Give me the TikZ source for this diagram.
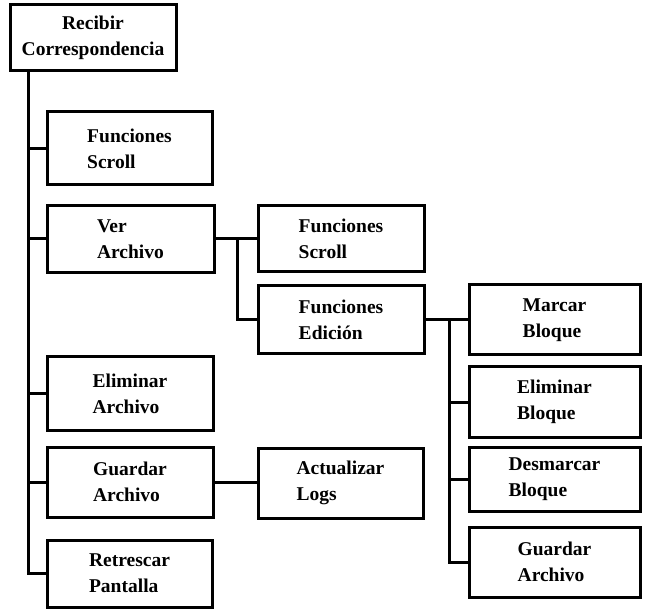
\documentclass[tikz,border=0pt]{standalone}
\usepackage{fontspec}
\setmainfont{Liberation Serif}
\begin{document}
\begin{tikzpicture}[x=1pt,y=-1pt,
  box/.style={draw, line width=3pt, rectangle, inner sep=0pt,
    font=\bfseries\fontsize{19.5}{26}\selectfont, align=left},
  link/.style={line width=3pt}]
\useasboundingbox (0,0) rectangle (645,609);
% boxes: centre, width, height
\newcommand{\boxat}[6]{\node[box,minimum width=#4,minimum height=#5,#6] (#1) at (#2,#3)}
\boxat{root}{93}{38}{166}{66}{align=center}{Recibir\\Correspondencia};
\boxat{fsa}{129.5}{148.5}{165}{73}{}{Funciones\\Scroll};
\boxat{ver}{130.5}{239}{167}{67}{}{Ver\\Archivo};
\boxat{elim}{130}{393.5}{166}{73}{}{Eliminar\\Archivo};
\boxat{guard}{130}{482}{166}{70}{}{Guardar\\Archivo};
\boxat{retr}{129.5}{573.5}{165}{67}{}{Retrescar\\Pantalla};
\boxat{fsb}{341}{239}{166}{66}{}{Funciones\\Scroll};
\boxat{edic}{341}{320}{166}{68}{}{Funciones\\Edición};
\boxat{act}{340.5}{483}{165}{70}{}{Actualizar\\Logs};
\boxat{marc}{554.5}{320}{171}{70}{}{Marcar\\Bloque};
\boxat{elimb}{554.5}{402}{171}{70}{}{Eliminar\\Bloque};
\boxat{desm}{554.5}{479}{171}{64}{}{Desmarcar\\Bloque};
\boxat{guardb}{554.5}{562}{171}{70}{}{Guardar\\Archivo};
% trunk and branch lines
\coordinate (t) at (28,0);
\coordinate (b1) at (237,0);
\coordinate (b2) at (449,0);
\draw[link] (root.south -| t) |- (retr.west);
\foreach \n in {fsa,ver,elim,guard}
  \draw[link] (t |- \n.west) -- (\n.west);
\draw[link] (ver.east) -- (fsb.west);
\draw[link] (b1 |- ver.east) |- (edic.west);
\draw[link] (guard.east) -- (guard.east -| act.west);
\draw[link] (edic.east) -- (marc.west);
\draw[link] (b2 |- edic.east) |- (guardb.west);
\foreach \n in {elimb,desm}
  \draw[link] (b2 |- \n.west) -- (\n.west);
\end{tikzpicture}
\end{document}
